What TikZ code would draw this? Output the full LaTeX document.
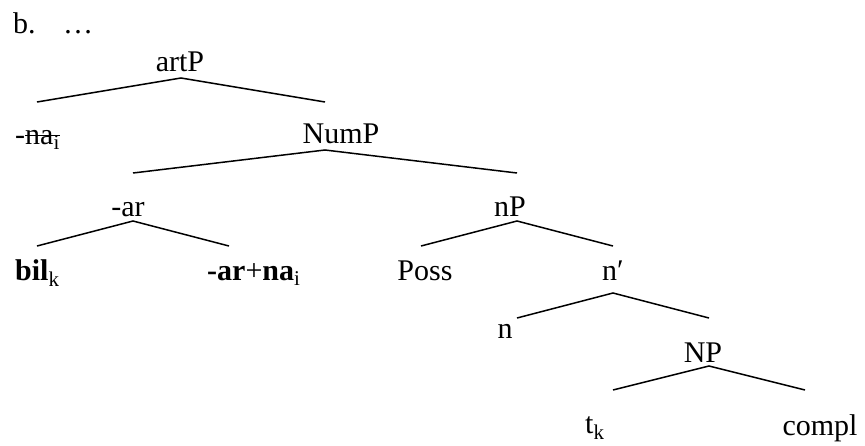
\documentclass[tikz,border=0pt]{standalone}
\usepackage{fontspec}
\setmainfont{Liberation Serif}
\newcommand\mystrike[1]{\setbox0\hbox{#1}\rlap{\rule[0.26em]{\wd0}{0.055em}}\box0}
\begin{document}
\begin{tikzpicture}[x=1pt,y=-1pt,
  lbl/.style={inner sep=0pt,anchor=base,font=\fontsize{30}{35}\selectfont},
  lblw/.style={lbl,anchor=base west},
  branch/.style={line width=1.5pt}]
\useasboundingbox (0,0) rectangle (865,445);
% labels
\node[lblw] (b) at (13,33) {b.};
\node[lblw] (dots) at (63,33) {…};
\node[lbl] (artP) at (180,71) {artP};
\node[lblw] (na) at (15,144) {-\mystrike{na\textsubscript{i}}};
\node[lbl] (NumP) at (341,143) {NumP};
\node[lbl] (ar) at (128,216) {-ar};
\node[lbl] (nP) at (510,216) {nP};
\node[lblw] (bil) at (15,280) {\textbf{bil}\textsubscript{k}};
\node[lblw] (arna) at (207,280) {\textbf{-ar}+\textbf{na}\textsubscript{i}};
\node[lbl] (Poss) at (425,280) {Poss};
\node[lbl] (nbar) at (613,280) {n′};
\node[lbl] (n) at (505,338) {n};
\node[lbl] (NP) at (703,362) {NP};
\node[lblw] (tk) at (585,433) {t\textsubscript{k}};
\node[lbl] (compl) at (820,435) {compl};
% branch points
\coordinate (a1) at (181,78);  \coordinate (l1) at (37,102);  \coordinate (r1) at (325,102);
\coordinate (a2) at (325,150); \coordinate (l2) at (133,173); \coordinate (r2) at (517,173);
\coordinate (a3) at (133,221); \coordinate (l3) at (37,246);  \coordinate (r3) at (229,246);
\coordinate (a4) at (517,221); \coordinate (l4) at (421,246); \coordinate (r4) at (613,246);
\coordinate (a5) at (613,293); \coordinate (l5) at (517,318); \coordinate (r5) at (709,318);
\coordinate (a6) at (709,366); \coordinate (l6) at (613,390); \coordinate (r6) at (805,390);
\foreach \i in {1,...,6}{\draw[branch] (l\i) -- (a\i) -- (r\i);}
\end{tikzpicture}
\end{document}
